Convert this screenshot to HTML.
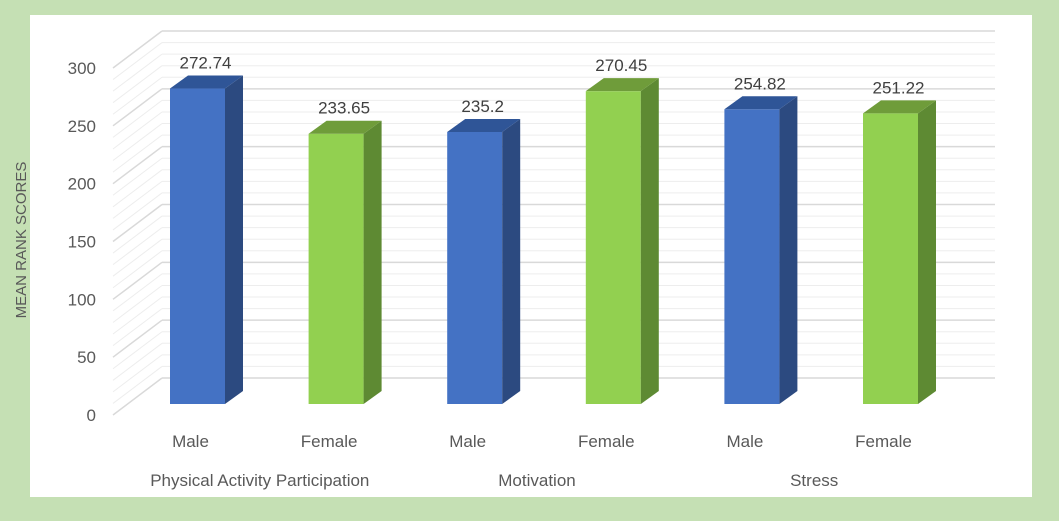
<!DOCTYPE html>
<html><head><meta charset="utf-8"><style>
body{margin:0;background:#C5E0B4;}
svg{display:block;font-family:"Liberation Sans",sans-serif;}
</style></head><body>
<svg id="chart" width="1059" height="521" viewBox="0 0 1059 521">
<rect x="0" y="0" width="1059" height="521" fill="#C5E0B4"/>
<rect x="30" y="15" width="1002" height="482" fill="#fff"/>
<g id="grid"></g>
<g id="bars"></g>
<g id="labels"></g>
<text transform="translate(26,240) rotate(-90)" text-anchor="middle" font-size="15" fill="#595959">MEAN RANK SCORES</text>
</svg>
<script>
const categories = ["Male","Female","Male","Female","Male","Female"];
const groups = ["Physical Activity Participation","Motivation","Stress"];
const values = [272.74,233.65,235.2,270.45,254.82,251.22];
const valueLabels = ["272.74","233.65","235.2","270.45","254.82","251.22"];
const ticks = [0,50,100,150,200,250,300];

const NS="http://www.w3.org/2000/svg";
function mk(tag,attrs,parent){const e=document.createElementNS(NS,tag);for(const k in attrs)e.setAttribute(k,attrs[k]);parent.appendChild(e);return e;}
const ppu=347/300;
const frontX=113, front0=415, dx=49, dy=-37, backRight=995;
function yFront(v){return front0-v*ppu;}
const grid=document.getElementById('grid'),bars=document.getElementById('bars'),labels=document.getElementById('labels');
for(let v=0;v<=300;v+=10){
  const major=v%50===0;
  const col=major?'#d9d9d9':'#ededed';
  const yf=yFront(v), yb=yf+dy;
  const d=mk('line',{x1:frontX,y1:yf,x2:frontX+dx,y2:yb,stroke:col,'stroke-width':major?1.5:1},grid);
  
  
  const b=mk('line',{x1:frontX+dx,y1:yb,x2:backRight,y2:yb,stroke:col,'stroke-width':major?1.5:1},grid);
  
  
}
ticks.forEach(t=>{
  const tx=mk('text',{x:96,y:yFront(t)+6,'text-anchor':'end','font-size':17,fill:'#595959'},labels);
  tx.textContent=t;
  
  
});
const barBase=404, step=138.6, x0=170, bw=55, sdx=18, sdy=-13;
const cols=[["#4472C4","#2C4A80","#2F5597"],["#92D050","#5E8A33","#6F9C3A"]];
values.forEach((v,i)=>{
  const x=x0+i*step, top=barBase-v*ppu, c=cols[i%2];
  const g=mk('g',{},bars);
  
  
  mk('rect',{x:x,y:top,width:bw,height:barBase-top,fill:c[0]},g);
  mk('polygon',{points:`${x+bw},${top} ${x+bw+sdx},${top+sdy} ${x+bw+sdx},${barBase+sdy} ${x+bw},${barBase}`,fill:c[1]},g);
  mk('polygon',{points:`${x},${top} ${x+sdx},${top+sdy} ${x+bw+sdx},${top+sdy} ${x+bw},${top}`,fill:c[2]},g);
  const vl=mk('text',{x:x+bw/2+sdx/2-1,y:top+sdy-7,'text-anchor':'middle','font-size':17,fill:'#404040'},labels);
  vl.textContent=valueLabels[i];
  
  
  const cl=mk('text',{x:x+bw/2-7,y:447,'text-anchor':'middle','font-size':17,fill:'#595959'},labels);
  cl.textContent=categories[i];
  
  
});
groups.forEach((gname,j)=>{
  const cx=x0+(2*j+0.5)*step+bw/2-7;
  const t=mk('text',{x:cx,y:486,'text-anchor':'middle','font-size':17,fill:'#595959'},labels);
  t.textContent=gname;
  
  
});
</script>
</body></html>
